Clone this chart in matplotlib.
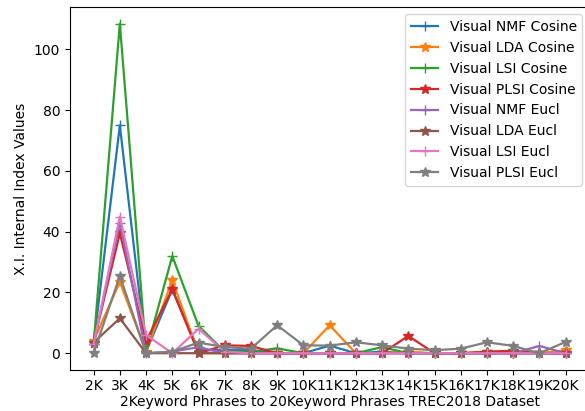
import matplotlib
matplotlib.use('Agg')
import matplotlib.pyplot as plt

phrases = ['2K', '3K', '4K', '5K', '6K', '7K', '8K', '9K', '10K', '11K',
           '12K', '13K', '14K', '15K', '16K', '17K', '18K', '19K', '20K']

nmf_cos = [3, 75, 0.5, 21, 1, 1, 1, 0, 0, 2.5, 0, 0.5, 0, 0, 0, 0, 0, 0, 0]
lda_cos = [4, 23.5, 0.5, 24, 0, 0, 0, 0, 0, 9.2, 0, 0, 0.5, 0, 0, 0.5, 0.5, 0, 1]
lsi_cos = [3, 108.5, 0.5, 32, 9, 0.5, 0.5, 1.6, 0, 0, 0, 2, 0, 0, 0, 0, 0, 0, 0]
plsi_cos = [3.5, 39.5, 4, 21, 0, 2.6, 2.4, 0, 0, 0, 0, 0, 5.7, 0, 0, 0.5, 0.8, 0, 0]
nmf_eucl = [3, 43, 0, 0.5, 2, 0, 0, 0, 0, 0, 0, 0, 0, 0, 0, 0, 0, 2.4, 0]
lda_eucl = [3.5, 11.5, 0, 0, 0, 0, 0, 0, 0, 0, 0, 0, 0, 0, 0, 0, 0, 0, 0]
lsi_eucl = [3, 45, 6, 0, 8, 0.5, 0, 0, 0, 0, 0, 0, 0, 0, 0, 0, 0, 0, 0]
plsi_eucl = [0, 25.5, 0, 0.5, 3.5, 2, 1.5, 9.2, 2.6, 2.5, 3.6, 2.6, 1.5, 1, 1.5, 3.6, 2.4, 0, 3.7]

series = [
    ('Visual NMF Cosine', nmf_cos, '+'),
    ('Visual LDA Cosine', lda_cos, '*'),
    ('Visual LSI Cosine', lsi_cos, '+'),
    ('Visual PLSI Cosine', plsi_cos, '*'),
    ('Visual NMF Eucl', nmf_eucl, '+'),
    ('Visual LDA Eucl', lda_eucl, '*'),
    ('Visual LSI Eucl', lsi_eucl, '+'),
    ('Visual PLSI Eucl', plsi_eucl, '*'),
]

fig = plt.figure(figsize=(5.85, 4.11), dpi=100)
ax = fig.add_axes([0.1197, 0.1005, 0.8875, 0.882])

for name, vals, mk in series:
    ax.plot(phrases, vals, marker=mk, markersize=7, linewidth=1.6, label=name)

ax.set_ylabel('X.I. Internal Index Values')
ax.set_xlabel('2Keyword Phrases to 20Keyword Phrases TREC2018 Dataset', labelpad=1)
ax.legend(loc='upper right')

fig.savefig('out.png', dpi=100)
